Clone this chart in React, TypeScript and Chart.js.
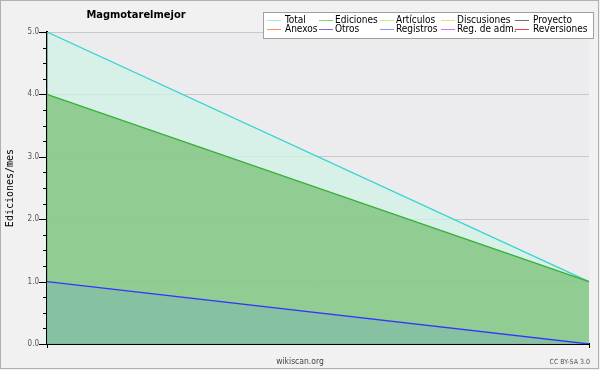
import React, { useEffect, useRef } from 'react';
import { Chart, registerables } from 'chart.js';

Chart.register(...registerables);

const chartTitle = 'Magmotarelmejor';
const months = ['2019-01', '2019-02'];
const total = [5, 1];
const ediciones = [4, 1];
const registros = [1, 0];
const yMax = 5;
const yStep = 0.25;
const yTitle = 'Ediciones/mes';
const xTitle = 'wikiscan.org';
const license = 'CC BY-SA 3.0';
const legendLabels = ['Total', 'Ediciones', 'Artículos', 'Discusiones', 'Proyecto', 'Anexos', 'Otros', 'Registros', 'Reg. de adm.', 'Reversiones'];
const legendColors = ['#a8e4e4', '#88cc88', '#c8f080', '#f8d870', '#707070', '#f89060', '#9060e0', '#8898f0', '#d070f0', '#f04040'];

const COND = "'DejaVu Sans Condensed', 'DejaVu Sans', sans-serif";

const decorPlugin = {
  id: 'decor',
  beforeDraw(chart: any) {
    const { ctx, chartArea } = chart;
    ctx.save();
    ctx.fillStyle = '#f1f1f1';
    ctx.fillRect(0, 0, chart.width, chart.height);
    ctx.fillStyle = '#ececee';
    ctx.fillRect(chartArea.left, chartArea.top, chartArea.right - chartArea.left, chartArea.bottom - chartArea.top);
    ctx.restore();
  },
  afterDraw(chart: any) {
    const { ctx, chartArea } = chart;
    const ys = chart.scales.y;
    ctx.save();
    // y tick marks
    ctx.strokeStyle = '#000';
    ctx.lineWidth = 1;
    ys.ticks.forEach((t: any) => {
      const y = Math.round(ys.getPixelForValue(t.value)) + 0.5;
      const len = Number.isInteger(t.value) ? 8 : 4;
      ctx.beginPath();
      ctx.moveTo(chartArea.left - len, y);
      ctx.lineTo(chartArea.left, y);
      ctx.stroke();
    });
    // border
    ctx.strokeStyle = '#b0b0b0';
    ctx.strokeRect(0.5, 0.5, 598, 368);
    // title
    ctx.fillStyle = '#000';
    ctx.font = `bold 11px ${COND}`;
    ctx.textAlign = 'center';
    ctx.textBaseline = 'alphabetic';
    ctx.fillText(chartTitle, 136, 18);
    // x title
    ctx.fillStyle = '#444';
    ctx.font = `8.5px ${COND}`;
    ctx.textBaseline = 'middle';
    ctx.fillText(xTitle, 300, 361.5);
    // license
    ctx.fillStyle = '#555';
    ctx.font = `7px ${COND}`;
    ctx.textAlign = 'right';
    ctx.fillText(license, 590, 362);
    // legend
    ctx.fillStyle = '#ffffff';
    ctx.fillRect(263.5, 12.5, 330, 26);
    ctx.strokeStyle = '#a0a0a0';
    ctx.strokeRect(263.5, 12.5, 330, 26);
    const lineX = [267, 319, 380, 441, 515];
    const textX = [285, 335, 396, 457, 533];
    const rows = [20.5, 29.5];
    ctx.font = `10px ${COND}`;
    ctx.textAlign = 'left';
    ctx.textBaseline = 'middle';
    legendLabels.forEach((lab, i) => {
      const c = i % 5;
      const r = Math.floor(i / 5);
      const y = rows[r];
      ctx.strokeStyle = legendColors[i];
      ctx.beginPath();
      ctx.moveTo(lineX[c], y);
      ctx.lineTo(lineX[c] + 14, y);
      ctx.stroke();
      ctx.fillStyle = '#000';
      ctx.fillText(lab, textX[c], y - 0.5);
    });
    ctx.restore();
  },
};

export default function App() {
  const ref = useRef<HTMLCanvasElement>(null);
  useEffect(() => {
    const chart = new Chart(ref.current as HTMLCanvasElement, {
      type: 'line',
      data: {
        labels: months,
        datasets: [
          {
            label: 'Registros',
            data: registros,
            borderColor: '#3434ff',
            backgroundColor: 'rgba(130,188,167,0.7)',
            borderWidth: 1.3,
            fill: 'origin',
            pointRadius: 0,
          },
          {
            label: 'Ediciones',
            data: ediciones,
            borderColor: '#36b036',
            backgroundColor: 'rgba(116,190,109,0.7)',
            borderWidth: 1.3,
            fill: 'origin',
            pointRadius: 0,
          },
          {
            label: 'Total',
            data: total,
            borderColor: '#38d4d0',
            backgroundColor: 'rgba(207,243,231,0.7)',
            borderWidth: 1.3,
            fill: 'origin',
            pointRadius: 0,
          },
        ],
      },
      options: {
        animation: false,
        responsive: false,
        devicePixelRatio: 1,
        layout: { padding: { top: 32, right: 11, left: 0, bottom: 0 } },
        plugins: { legend: { display: false }, tooltip: { enabled: false } },
        scales: {
          x: {
            type: 'category',
            offset: false,
            grid: { drawOnChartArea: false, tickLength: 4, color: '#000', tickColor: '#000' },
            border: { color: '#000', width: 2 },
            ticks: { callback: () => '', autoSkip: false, maxRotation: 0 },
            afterFit: (s: any) => { s.height = 26; },
          },
          y: {
            min: 0,
            max: yMax,
            grid: {
              drawTicks: false,
              color: (c: any) => (c.tick && Number.isInteger(c.tick.value) ? '#c8c8c8' : 'rgba(0,0,0,0)'),
            },
            border: { color: '#000', width: 2 },
            ticks: {
              stepSize: yStep,
              autoSkip: false,
              padding: 8,
              color: '#555',
              font: { family: COND, size: 8 },
              callback: (v: any) => (Number.isInteger(v) ? Number(v).toFixed(1) : ''),
            },
            title: {
              display: true,
              text: yTitle,
              color: '#000',
              font: { family: "'DejaVu Sans Mono', monospace", size: 10 },
              padding: { top: 4, bottom: 0 },
            },
            afterFit: (s: any) => { s.width = 47; },
          },
        },
      },
      plugins: [decorPlugin],
    });
    return () => chart.destroy();
  }, []);
  return (
    <div style={{ position: 'absolute', left: 0, top: 0, width: 600, height: 370 }}>
      <canvas ref={ref} width={600} height={370} style={{ width: 600, height: 370 }} />
    </div>
  );
}
